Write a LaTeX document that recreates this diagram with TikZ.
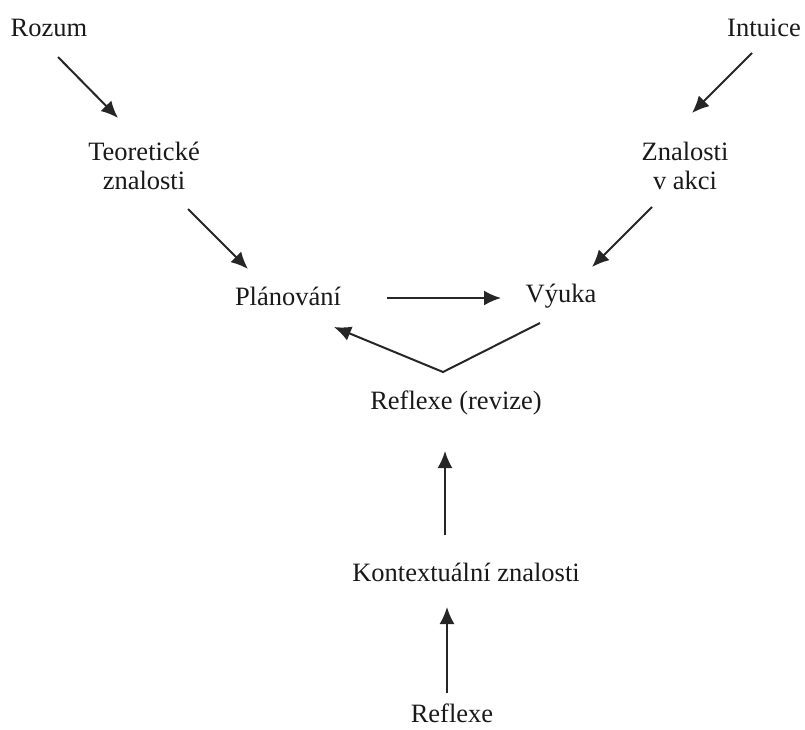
\documentclass[tikz,border=0pt]{standalone}
\usepackage{fontspec}
\setmainfont{Liberation Serif}
\usetikzlibrary{arrows.meta}
\begin{document}
\begin{tikzpicture}[x=1pt,y=-1pt,
  lbl/.style={inner sep=0pt,align=center,font=\fontsize{26.5}{28.5}\selectfont,text=black!90},
  arr/.style={draw=black!85,line width=2pt,-{Latex[length=17pt,width=15pt]}}]
\useasboundingbox (0,0) rectangle (805,729);
\node[lbl] (rozum) at (49,28) {Rozum};
\node[lbl] (intuice) at (764,28) {Intuice};
\node[lbl] (teor) at (144,166) {Teoretické\\znalosti};
\node[lbl] (znal) at (685,166) {Znalosti\\v akci};
\node[lbl] (plan) at (288,296) {Plánování};
\node[lbl] (vyuka) at (561,296) {Výuka};
\node[lbl] (refrev) at (456,403) {Reflexe (revize)};
\node[lbl] (kontext) at (466,572) {Kontextuální znalosti};
\node[lbl] (reflexe) at (452,713) {Reflexe};
% arrow end points
\coordinate (a1s) at (58,57);   \coordinate (a1e) at (118,118);
\coordinate (a2s) at (188,209); \coordinate (a2e) at (248,269);
\coordinate (a3s) at (752,53);  \coordinate (a3e) at (692,113);
\coordinate (a4s) at (652,207); \coordinate (a4e) at (592,267);
\coordinate (a5s) at (387,298); \coordinate (a5e) at (501,298);
\coordinate (v1) at (540,323);  \coordinate (v2) at (443,372); \coordinate (v3) at (334,327);
\coordinate (a6s) at (445,535); \coordinate (a6e) at (445,451);
\coordinate (a7s) at (447,693); \coordinate (a7e) at (447,607);
\draw[arr] (a1s) -- (a1e);
\draw[arr] (a2s) -- (a2e);
\draw[arr] (a3s) -- (a3e);
\draw[arr] (a4s) -- (a4e);
\draw[arr] (a5s) -- (a5e);
\draw[arr] (v1) -- (v2) -- (v3);
\draw[arr] (a6s) -- (a6e);
\draw[arr] (a7s) -- (a7e);
\end{tikzpicture}
\end{document}
